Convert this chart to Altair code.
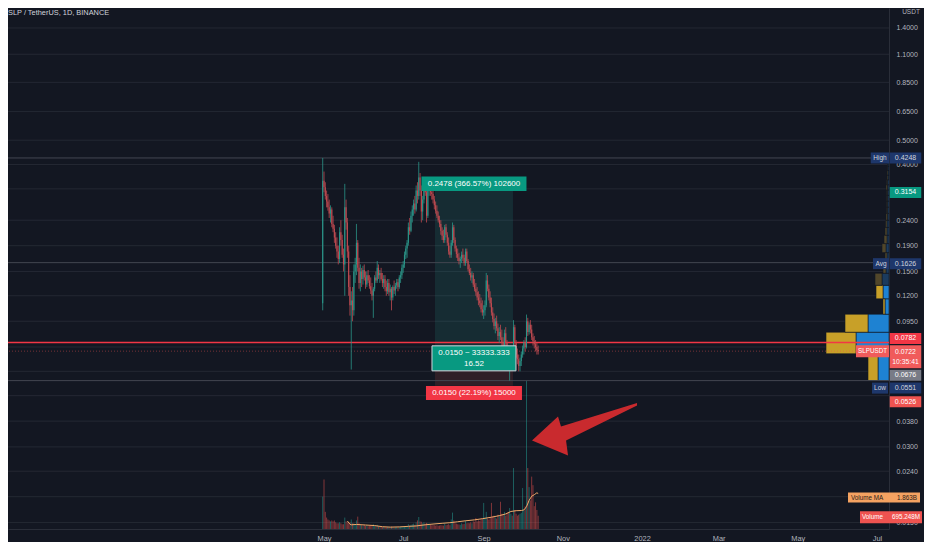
import altair as alt
import pandas as pd
import numpy as np

FONT = "Liberation Sans"
TITLE = "SLP / TetherUS, 1D, BINANCE"
UNIT = "USDT"
FIRST_DAY = "2021-04-30"

# ---------------- daily candles (USDT) ----------------
opens = [0.112, 0.345, 0.325, 0.30, 0.285, 0.27, 0.255, 0.265, 0.232, 0.222,
         0.205, 0.19, 0.18, 0.168, 0.215, 0.20, 0.175, 0.16, 0.27, 0.235,
         0.18, 0.13, 0.11, 0.115, 0.105, 0.15, 0.16, 0.195, 0.155, 0.135,
         0.15, 0.14, 0.152, 0.142, 0.133, 0.145, 0.138, 0.131, 0.126, 0.12,
         0.128, 0.142, 0.138, 0.155, 0.145, 0.148, 0.14, 0.135, 0.14, 0.13,
         0.125, 0.135, 0.124, 0.128, 0.118, 0.13, 0.126, 0.132, 0.136, 0.13,
         0.142, 0.145, 0.155, 0.16, 0.175, 0.185, 0.195, 0.225, 0.218, 0.25,
         0.265, 0.28, 0.265, 0.315, 0.30, 0.355, 0.315, 0.26, 0.29, 0.335,
         0.31, 0.25, 0.32, 0.335, 0.31, 0.305, 0.29, 0.275, 0.262, 0.25,
         0.24, 0.232, 0.218, 0.208, 0.20, 0.225, 0.21, 0.195, 0.18, 0.175,
         0.195, 0.225, 0.20, 0.185, 0.176, 0.17, 0.165, 0.168, 0.175, 0.17,
         0.162, 0.18, 0.165, 0.153, 0.148, 0.142, 0.145, 0.133, 0.128, 0.124,
         0.118, 0.115, 0.112, 0.106, 0.103, 0.105, 0.11, 0.138, 0.128, 0.118,
         0.112, 0.103, 0.097, 0.091, 0.095, 0.089, 0.083, 0.086, 0.082, 0.078,
         0.073, 0.085, 0.078, 0.07, 0.065, 0.068, 0.071, 0.066, 0.09, 0.078,
         0.07, 0.067, 0.063, 0.066, 0.07, 0.074, 0.078, 0.075, 0.095, 0.086,
         0.092, 0.088, 0.082, 0.079, 0.077, 0.075, 0.073]
highs = [0.4248, 0.375, 0.34, 0.315, 0.305, 0.29, 0.275, 0.27, 0.25, 0.23,
         0.215, 0.205, 0.19, 0.225, 0.24, 0.21, 0.185, 0.335, 0.29, 0.245,
         0.19, 0.145, 0.125, 0.13, 0.16, 0.17, 0.232, 0.20, 0.17, 0.16,
         0.155, 0.158, 0.16, 0.15, 0.15, 0.152, 0.145, 0.142, 0.135, 0.13,
         0.145, 0.15, 0.165, 0.16, 0.152, 0.155, 0.148, 0.145, 0.145, 0.138,
         0.14, 0.14, 0.133, 0.13, 0.132, 0.138, 0.135, 0.14, 0.14, 0.145,
         0.15, 0.16, 0.165, 0.18, 0.19, 0.20, 0.235, 0.245, 0.26, 0.275,
         0.29, 0.30, 0.33, 0.34, 0.41, 0.37, 0.33, 0.30, 0.345, 0.35,
         0.32, 0.33, 0.35, 0.345, 0.33, 0.315, 0.30, 0.285, 0.275, 0.26,
         0.25, 0.24, 0.225, 0.22, 0.23, 0.232, 0.215, 0.205, 0.19, 0.20,
         0.235, 0.23, 0.205, 0.19, 0.185, 0.178, 0.172, 0.18, 0.185, 0.175,
         0.185, 0.185, 0.168, 0.16, 0.155, 0.15, 0.148, 0.14, 0.135, 0.13,
         0.125, 0.122, 0.118, 0.115, 0.11, 0.115, 0.148, 0.145, 0.133, 0.125,
         0.118, 0.108, 0.102, 0.098, 0.10, 0.093, 0.09, 0.092, 0.088, 0.082,
         0.088, 0.09, 0.08, 0.076, 0.07, 0.074, 0.073, 0.096, 0.092, 0.08,
         0.074, 0.07, 0.068, 0.072, 0.076, 0.08, 0.082, 0.101, 0.098, 0.094,
         0.096, 0.092, 0.085, 0.083, 0.08, 0.078, 0.076]
lows = [0.105, 0.31, 0.29, 0.27, 0.262, 0.245, 0.235, 0.225, 0.215, 0.195,
        0.185, 0.17, 0.16, 0.162, 0.19, 0.17, 0.15, 0.12, 0.22, 0.17,
        0.12, 0.10, 0.061, 0.095, 0.10, 0.135, 0.145, 0.15, 0.128, 0.125,
        0.13, 0.133, 0.138, 0.128, 0.13, 0.135, 0.128, 0.122, 0.115, 0.098,
        0.125, 0.135, 0.135, 0.14, 0.135, 0.138, 0.13, 0.128, 0.125, 0.12,
        0.122, 0.12, 0.115, 0.105, 0.115, 0.122, 0.12, 0.128, 0.125, 0.128,
        0.135, 0.14, 0.148, 0.155, 0.168, 0.17, 0.19, 0.21, 0.215, 0.235,
        0.25, 0.255, 0.26, 0.28, 0.29, 0.30, 0.235, 0.24, 0.28, 0.30,
        0.235, 0.245, 0.30, 0.30, 0.29, 0.28, 0.265, 0.255, 0.245, 0.235,
        0.225, 0.21, 0.20, 0.195, 0.195, 0.205, 0.19, 0.175, 0.17, 0.17,
        0.19, 0.195, 0.18, 0.17, 0.165, 0.16, 0.155, 0.162, 0.165, 0.158,
        0.158, 0.162, 0.15, 0.145, 0.138, 0.135, 0.13, 0.125, 0.12, 0.115,
        0.11, 0.108, 0.103, 0.10, 0.097, 0.10, 0.108, 0.125, 0.115, 0.108,
        0.10, 0.094, 0.088, 0.085, 0.087, 0.08, 0.078, 0.08, 0.074, 0.07,
        0.072, 0.075, 0.066, 0.062, 0.0551, 0.064, 0.063, 0.065, 0.075, 0.068,
        0.064, 0.06, 0.06, 0.063, 0.068, 0.07, 0.072, 0.074, 0.083, 0.084,
        0.085, 0.08, 0.076, 0.074, 0.072, 0.07, 0.07]
closes = [0.345, 0.325, 0.30, 0.285, 0.27, 0.255, 0.265, 0.232, 0.222, 0.205,
          0.19, 0.18, 0.168, 0.215, 0.20, 0.175, 0.16, 0.27, 0.235, 0.18,
          0.13, 0.11, 0.115, 0.105, 0.15, 0.16, 0.195, 0.155, 0.135, 0.15,
          0.14, 0.152, 0.142, 0.133, 0.145, 0.138, 0.131, 0.126, 0.12, 0.128,
          0.142, 0.138, 0.155, 0.145, 0.148, 0.14, 0.135, 0.14, 0.13, 0.125,
          0.135, 0.124, 0.128, 0.118, 0.13, 0.126, 0.132, 0.136, 0.13, 0.142,
          0.145, 0.155, 0.16, 0.175, 0.185, 0.195, 0.225, 0.218, 0.25, 0.265,
          0.28, 0.265, 0.315, 0.30, 0.355, 0.315, 0.26, 0.29, 0.335, 0.31,
          0.25, 0.32, 0.335, 0.31, 0.305, 0.29, 0.275, 0.262, 0.25, 0.24,
          0.232, 0.218, 0.208, 0.20, 0.225, 0.21, 0.195, 0.18, 0.175, 0.195,
          0.225, 0.20, 0.185, 0.176, 0.17, 0.165, 0.168, 0.175, 0.17, 0.162,
          0.18, 0.165, 0.153, 0.148, 0.142, 0.145, 0.133, 0.128, 0.124, 0.118,
          0.115, 0.112, 0.106, 0.103, 0.105, 0.11, 0.138, 0.128, 0.118, 0.112,
          0.103, 0.097, 0.091, 0.095, 0.089, 0.083, 0.086, 0.082, 0.078, 0.073,
          0.085, 0.078, 0.07, 0.065, 0.068, 0.071, 0.066, 0.09, 0.078, 0.07,
          0.067, 0.063, 0.066, 0.07, 0.074, 0.078, 0.075, 0.095, 0.086, 0.092,
          0.088, 0.082, 0.079, 0.077, 0.075, 0.073, 0.0722]
# daily volume, billions of SLP
volumes_b = [1.7, 2.6, 0.9, 0.6, 0.5, 0.45, 0.4, 0.45, 0.4, 0.45,
             0.35, 0.3, 0.3, 0.35, 0.3, 0.25, 0.25, 0.6, 0.4, 0.35,
             0.3, 0.35, 0.5, 0.3, 0.3, 0.25, 0.45, 0.65, 0.3, 0.22,
             0.2, 0.18, 0.22, 0.17, 0.2, 0.15, 0.16, 0.18, 0.2, 0.25,
             0.18, 0.15, 0.22, 0.14, 0.12, 0.13, 0.1, 0.11, 0.1, 0.09,
             0.1, 0.09, 0.1, 0.12, 0.09, 0.08, 0.09, 0.1, 0.09, 0.11,
             0.1, 0.12, 0.11, 0.14, 0.13, 0.15, 0.25, 0.18, 0.22, 0.25,
             0.28, 0.22, 0.35, 0.45, 0.63, 0.4, 0.38, 0.3, 0.35, 0.28,
             0.32, 0.3, 0.28, 0.22, 0.2, 0.22, 0.2, 0.18, 0.2, 0.17,
             0.18, 0.2, 0.19, 0.18, 0.28, 0.2, 0.22, 0.25, 0.2, 0.5,
             0.86, 0.45, 0.3, 0.28, 0.25, 0.24, 0.22, 0.3, 0.25, 0.27,
             0.45, 0.3, 0.32, 0.3, 0.35, 0.3, 0.4, 0.38, 0.58, 0.4,
             0.45, 0.42, 0.5, 0.55, 1.37, 0.6, 0.9, 0.55, 0.5, 0.6,
             1.37, 0.65, 0.7, 0.6, 0.55, 0.75, 0.7, 1.43, 0.8, 0.75,
             0.9, 0.7, 0.85, 0.9, 1.1, 0.8, 0.7, 3.2, 1.0, 0.8,
             0.7, 0.75, 0.8, 0.85, 2.15, 1.0, 1.2, 7.8, 3.2, 2.2,
             1.5, 2.75, 2.3, 1.2, 1.4, 1.0, 0.695]
# Volume MA line, read at these candle indices (billions)
ma_index = [19, 21, 22, 26, 33, 40, 46, 52, 59, 66, 72, 79, 85, 92, 98, 104,
            110, 117, 123, 130, 136, 141, 145, 149, 153, 155, 157, 159, 161,
            163, 165, 166]
ma_values_b = [0.42, 0.25, 0.22, 0.24, 0.21, 0.18, 0.12, 0.10, 0.11, 0.14,
               0.16, 0.22, 0.26, 0.30, 0.33, 0.38, 0.43, 0.48, 0.54, 0.62,
               0.70, 0.79, 0.92, 0.96, 0.97, 1.0, 1.17, 1.5, 1.72, 1.8, 1.9,
               1.863]

# visible-range volume profile: 24 rows between range low and high
profile_low, profile_high = 0.0551, 0.4248
profile_up = [5.5, 16.5, 10.5, 2, 3, 3.5, 1.5, 1, 1.5, 1, 1, 1, 0.75, 0.75,
              0.75, 0.75, 0.75, 0.75, 0.75, 0.5, 0.5, 0.5, 0.5, 0.25]
profile_down = [5, 15, 11.5, 1, 3.5, 3.5, 1.5, 1, 2, 1.5, 1, 0.75, 0.75, 0.5,
                0.5, 0.5, 0.5, 0.75, 0.5, 0.5, 0.5, 0.25, 0.25, 0.25]
value_area_rows = [0, 1, 2, 3, 4]

# key levels
level_high, level_avg, level_low = 0.4248, 0.1626, 0.0551
red_line_level = 0.0782
last_price = 0.0722
last_time = "10:35:41"
symbol = "SLPUSDT"
vol_ma_last, vol_last = 1.863, 0.695
vol_ma_text, vol_text = "1.863B", "695.248M"

# long position tool
tool_start, tool_end = "2021-07-25T12:00:00Z", "2021-09-23T14:00:00Z"
tool_entry, tool_target, tool_stop = 0.0676, 0.3154, 0.0526
tool_top_text = "0.2478 (366.57%) 102600"
tool_mid_text = ["0.0150 ~ 33333.333", "16.52"]
tool_bot_text = "0.0150 (22.19%) 15000"

# annotation arrow (centre, in chart data space)
arrow_date, arrow_price = "2021-11-17T17:00:00Z", 0.03533

month_ticks = ["2021-05-01", "2021-07-01", "2021-09-01", "2021-11-01",
               "2022-01-01", "2022-03-01", "2022-05-01", "2022-07-01"]
# price grid levels; those covered by price tags carry no label
price_grid = [1.4, 1.1, 0.85, 0.65, 0.5, 0.4, 0.32, 0.24, 0.19, 0.15, 0.12,
              0.095, 0.075, 0.06, 0.048, 0.038, 0.03, 0.024, 0.019, 0.015]
price_labels = [1.4, 1.1, 0.85, 0.65, 0.5, 0.4, 0.24, 0.19, 0.15, 0.12,
                0.095, 0.038, 0.03, 0.024, 0.019, 0.015]

# ---------------- styling ----------------
BG = "#131722"
UP, DOWN = "#2b9488", "#bf4a50"
NAVY = "#1e376b"
TEAL = "#089981"
RED = "#f23645"
SALMON = "#ef5350"
W, H = 881, 521


def dt(s, h=0, m=0):
    y, mo, d = map(int, s.split("-"))
    return alt.DateTime(year=y, month=mo, date=d, hours=h, minutes=m, utc=True)


X_DOMAIN = [dt("2020-08-30", 13, 12), dt("2022-07-10", 6, 43)]


def xs():
    return alt.Scale(type="utc", domain=X_DOMAIN)


def ys():
    return alt.Scale(type="log", domain=[0.014126, 1.6813], nice=False)


def vs():
    return alt.Scale(domain=[0, 27.35], nice=False, zero=True)


def ps():
    return alt.Scale(domain=[0, W / 2.0], reverse=True, nice=False, zero=True)


def XT(f):
    return alt.X(f, type="temporal", scale=xs(), axis=None)


def YP(f):
    return alt.Y(f, type="quantitative", scale=ys(), axis=None)


def YV(f):
    return alt.Y(f, type="quantitative", scale=vs(), axis=None)


def rect_path(w, h):
    r = h / w
    return f"M-1,{-r:.4f}L1,{-r:.4f}L1,{r:.4f}L-1,{r:.4f}Z"


ARROW = ("M-1,0.219L-0.505,-0.238L-0.448,-0.048L1,-0.495L1,-0.448"
         "L-0.352,0.219L-0.314,0.505Z")

dates = pd.date_range(FIRST_DAY, periods=len(closes), freq="D").strftime("%Y-%m-%d").tolist()
df = pd.DataFrame({"date": dates, "o": opens, "h": highs, "l": lows,
                   "c": closes, "v": volumes_b})
df["dir"] = np.where(df["c"] >= df["o"], "up", "down")


def dir_color(up, down):
    return alt.Color("dir:N", scale=alt.Scale(domain=["up", "down"], range=[up, down]), legend=None)


x_axis = alt.Axis(values=[dt(s) for s in month_ticks], title=None, grid=False, ticks=False,
                  labelExpr="utcFormat(datum.value, '%m') == '01' ? utcFormat(datum.value, '%Y') : utcFormat(datum.value, '%b')",
                  labelColor="#b2b5be", labelFontSize=7.4, labelPadding=5.5, labelFont=FONT,
                  domainColor="#2a2e39", labelFlush=False)
y_axis = alt.Axis(orient="right", values=price_labels, format=".4f", title=None, grid=False,
                  ticks=False, labelColor="#b2b5be", labelFontSize=7,
                  labelPadding=7, labelFont=FONT, domainColor="#2a2e39")

base = alt.Chart(df)
layers = []

# ---------------- grid ----------------
layers.append(alt.Chart(pd.DataFrame({"p": price_grid})).mark_rule(
    color="#242833", strokeWidth=1).encode(y=YP("p")))

# ---------------- volume ----------------
layers.append(base.mark_rule(strokeWidth=1, opacity=0.5).encode(
    x=XT("date"), y=YV("v:Q"), y2=alt.datum(0), color=dir_color("#26a69a", SALMON)))
ma_df = pd.DataFrame({"date": [dates[i] for i in ma_index], "ma": ma_values_b})
layers.append(alt.Chart(ma_df).mark_line(color="#f0a868", strokeWidth=1).encode(
    x=XT("date"), y=YV("ma")))

# ---------------- volume profile ----------------
nrows = len(profile_up)
step = (profile_high - profile_low) / nrows
prof = pd.DataFrame({"k": range(nrows), "up": profile_up, "down": profile_down})
prof["lo"] = profile_low + prof["k"] * step
prof["hi"] = prof["lo"] + step
prof["zero"] = 0.0
prof["cum"] = prof["up"] + prof["down"]
prof["va"] = np.where(prof["k"].isin(value_area_rows), "in", "out")
pb = alt.Chart(prof)
layers.append(pb.mark_rect(stroke=BG, strokeWidth=0.6).encode(
    x=alt.X("zero:Q", scale=ps(), axis=None), x2="up:Q", y=YP("lo"), y2="hi:Q",
    color=alt.Color("va:N", scale=alt.Scale(domain=["in", "out"], range=["#1e82d2", "#1b3b5e"]), legend=None)))
layers.append(pb.mark_rect(stroke=BG, strokeWidth=0.6).encode(
    x=alt.X("up:Q", scale=ps(), axis=None), x2="cum:Q", y=YP("lo"), y2="hi:Q",
    color=alt.Color("va:N", scale=alt.Scale(domain=["in", "out"], range=["#c8a028", "#51462a"]), legend=None)))

# ---------------- position tool shading ----------------
tool_df = pd.DataFrame({"s": [tool_start], "e": [tool_end], "entry": [tool_entry],
                        "target": [tool_target], "stop": [tool_stop]})
mid = pd.to_datetime(tool_df["s"]) + (pd.to_datetime(tool_df["e"]) - pd.to_datetime(tool_df["s"])) / 2
tool_df["mid"] = mid.dt.strftime("%Y-%m-%dT%H:%M:%SZ")
tb = alt.Chart(tool_df)
layers.append(tb.mark_rect(color="#26a69a", opacity=0.15).encode(x=XT("s"), x2="e", y=YP("entry"), y2="target"))
layers.append(tb.mark_rect(color=SALMON, opacity=0.13).encode(x=XT("s"), x2="e", y=YP("stop"), y2="entry"))

# ---------------- horizontal levels ----------------
lv = pd.DataFrame({"p": [level_high, level_avg, level_low]})
layers.append(alt.Chart(lv).mark_rule(color="#434651", strokeWidth=1).encode(y=YP("p")))
layers.append(alt.Chart(pd.DataFrame({"p": [red_line_level]})).mark_rule(color=RED, strokeWidth=1.4).encode(y=YP("p")))
layers.append(alt.Chart(pd.DataFrame({"p": [last_price]})).mark_rule(
    color=SALMON, strokeWidth=1, opacity=0.45, strokeDash=[1, 2]).encode(y=YP("p")))

# ---------------- candles (carry the axes) ----------------
layers.append(base.mark_rule(strokeWidth=0.8).encode(
    x=alt.X("date:T", scale=xs(), axis=x_axis),
    y=alt.Y("l:Q", scale=ys(), axis=y_axis), y2="h:Q", color=dir_color(UP, DOWN)))
layers.append(base.mark_rule(strokeWidth=1.1).encode(
    x=XT("date"), y=YP("o"), y2="c", color=dir_color(UP, DOWN)))

# ---------------- arrow ----------------
layers.append(alt.Chart(pd.DataFrame({"d": [arrow_date], "p": [arrow_price]})).mark_point(
    shape=ARROW, size=105 ** 2, filled=True, fill="#c92a2e", opacity=1, strokeWidth=0
).encode(x=XT("d"), y=YP("p")))


def boxed(data, xenc, yenc, w, h, fill, texts, dy=0.0, stroke=None, tcolor="#ffffff", fsize=7.0):
    c = alt.Chart(data)
    kw = dict(shape=rect_path(w, h), size=w * w, filled=True, fill=fill, opacity=1, yOffset=dy)
    if stroke:
        kw.update(stroke=stroke, strokeWidth=1)
    else:
        kw.update(strokeWidth=0)
    out = [c.mark_point(**kw).encode(x=xenc, y=yenc)]
    for txt, tdy, tx, align in texts:
        enc = dict(y=yenc, text=alt.value(txt))
        enc["x"] = xenc if tx is None else alt.value(tx)
        out.append(c.mark_text(color=tcolor, fontSize=fsize, font=FONT, dy=tdy,
                               align=align, baseline="middle").encode(**enc))
    return out


# ---------------- position tool labels ----------------
layers += boxed(tool_df, XT("mid"), YP("target"), 105, 14.5, TEAL,
                [(tool_top_text, -6.7, None, "center")], dy=-6.7, fsize=8)
layers += boxed(tool_df, XT("mid"), YP("entry"), 84, 25, TEAL,
                [(tool_mid_text[0], -5.5, None, "center"), (tool_mid_text[1], 5.5, None, "center")],
                dy=0, stroke="#d1d4dc", fsize=8)
layers += boxed(tool_df, XT("mid"), YP("stop"), 96, 14, RED,
                [(tool_bot_text, 7.3, None, "center")], dy=7.3, fsize=8)

# ---------------- price-scale tags ----------------
VX = 897.5


def ptag(price, text, fill, dy, tcolor="#ffffff"):
    d = pd.DataFrame({"p": [price]})
    return boxed(d, alt.value(VX), YP("p"), 31.5, 11, fill, [(text, dy, None, "center")],
                 dy=dy, tcolor=tcolor)


def side(price, text, cx, w, fill, dy, tcolor="#d1d4dc", fsize=6.5, h=11):
    d = pd.DataFrame({"p": [price]})
    return boxed(d, alt.value(cx), YP("p"), w, h, fill, [(text, dy, None, "center")],
                 dy=dy, fsize=fsize, tcolor=tcolor)


layers += side(level_high, "High", 872, 18.5, NAVY, 0)
layers += ptag(level_high, f"{level_high:.4f}", NAVY, 0, "#d1d4dc")
layers += ptag(tool_target, f"{tool_target:.4f}", TEAL, 2)
layers += side(level_avg, "Avg", 873, 16, NAVY, 1)
layers += ptag(level_avg, f"{level_avg:.4f}", NAVY, 1, "#d1d4dc")
layers += ptag(red_line_level, f"{red_line_level:.4f}", RED, -4)
layers += side(last_price, symbol, 864.5, 33, "#f05b5b", 0, tcolor="#ffffff", fsize=6.3, h=12)
lp_d = pd.DataFrame({"p": [last_price]})
layers += boxed(lp_d, alt.value(VX), YP("p"), 31.5, 23, "#f05b5b",
                [(f"{last_price:.4f}", 1, None, "center"), (last_time, 11, None, "center")],
                dy=5.5, fsize=6.8)
layers += ptag(tool_entry, f"{tool_entry:.4f}", "#787b86", 17)
layers += side(level_low, "Low", 872, 16, NAVY, 7.5)
layers += ptag(level_low, f"{level_low:.4f}", NAVY, 7.5, "#d1d4dc")
layers += ptag(tool_stop, f"{tool_stop:.4f}", SALMON, 16)

# ---------------- volume tags ----------------
vma_d = pd.DataFrame({"v": [vol_ma_last]})
layers += boxed(vma_d, alt.value(876), YV("v"), 72, 10, "#f4a261",
                [("Volume MA", 4, 843, "left"), (vol_ma_text, 4, 899, "center")],
                dy=4, tcolor="#2b2118", fsize=6.3)
vl_d = pd.DataFrame({"v": [vol_last]})
layers += boxed(vl_d, alt.value(883), YV("v"), 62, 12, SALMON,
                [("Volume", 1.5, 854, "left"), (vol_text, 1.5, 898, "center")],
                dy=1.5, fsize=6.3)

# ---------------- header texts ----------------
head = alt.Chart(pd.DataFrame({"t": [TITLE], "u": [UNIT]}))
layers.append(head.mark_text(align="left", baseline="middle", color="#d1d4dc", fontSize=7.4, font=FONT).encode(
    x=alt.value(0), y=alt.value(4.5), text="t:N"))
layers.append(head.mark_text(align="center", baseline="middle", color="#b2b5be", fontSize=6.5, font=FONT).encode(
    x=alt.value(903), y=alt.value(3.7), text="u:N"))

chart = alt.layer(*layers).resolve_scale(
    x="independent", y="independent", color="independent"
).properties(
    width=W, height=H,
    autosize=alt.AutoSizeParams(type="none"),
    padding={"left": 0, "top": 0, "right": 35, "bottom": 13},
).configure(background=BG, font=FONT).configure_view(strokeWidth=0)

chart.save("out.html", embed_options={"renderer": "svg", "actions": False})
